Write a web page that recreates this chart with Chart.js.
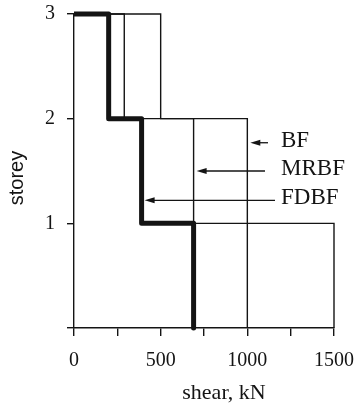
<!DOCTYPE html>
<html>
<head>
<meta charset="utf-8">
<script src="https://cdn.jsdelivr.net/npm/chart.js@4.4.0/dist/chart.umd.min.js"></script>
<style>
  html, body { margin: 0; padding: 0; background: #fff; }
  #wrap { width: 360px; height: 409px; }
</style>
</head>
<body>
<div id="wrap"><canvas id="chart" width="360" height="409"></canvas></div>
<script>
// storey shear for storeys 1, 2, 3 (kN)
const frames = ['BF', 'MRBF', 'FDBF'];
const shearBF = [1500, 1000, 500];
const shearMRBF = [1000, 690, 290];
const shearFDBF = [690, 390, 200];
const storeyTicks = [1, 2, 3];
const shearLabels = [0, 500, 1000, 1500];
// where the arrows for each label sit (storey level)
const labelLevels = [1.77, 1.5, 1.22];

const INK = '#141414';

// step profile: from zero at the roof, down storey by storey
function stepProfile(shear) {
  const pts = [{ x: 0, y: 3 }];
  for (let s = 3; s >= 1; s--) {
    const v = shear[s - 1];
    pts.push({ x: v, y: s });
    pts.push({ x: v, y: s - 1 });
  }
  return pts;
}

const labelsPlugin = {
  id: 'labels',
  afterDraw(chart) {
    const ctx = chart.ctx;
    const xs = chart.scales.x, ys = chart.scales.y;
    const series = [shearBF, shearMRBF, shearFDBF];
    const tails = [268, 265, 275];
    ctx.save();
    ctx.fillStyle = INK;
    ctx.strokeStyle = INK;

    // axis titles
    ctx.font = '20px "Liberation Sans", sans-serif';
    ctx.textAlign = 'center';
    ctx.textBaseline = 'middle';
    ctx.save();
    ctx.translate(17, 178);
    ctx.rotate(-Math.PI / 2);
    ctx.fillText('storey', 0, 0);
    ctx.restore();
    ctx.font = '22px "Liberation Serif", serif';
    ctx.fillText('shear, kN', 224, 393);

    // frame labels with arrows pointing to storey-2 segment
    ctx.font = '23px "Liberation Serif", serif';
    ctx.textAlign = 'left';
    frames.forEach((name, i) => {
      const y = ys.getPixelForValue(labelLevels[i]);
      const tip = xs.getPixelForValue(series[i][1]) + 3;
      const tail = tails[i];
      ctx.lineWidth = 1.3;
      ctx.beginPath();
      ctx.moveTo(tail, y);
      ctx.lineTo(tip + 6, y);
      ctx.stroke();
      ctx.beginPath();
      ctx.moveTo(tip, y);
      ctx.lineTo(tip + 10, y - 3);
      ctx.lineTo(tip + 10, y + 3);
      ctx.closePath();
      ctx.fill();
      ctx.fillText(name, 281, y - 2);
    });
    ctx.restore();
  }
};

new Chart(document.getElementById('chart'), {
  type: 'scatter',
  data: {
    datasets: [
      { label: 'BF', data: stepProfile(shearBF), borderWidth: 1.4 },
      { label: 'MRBF', data: stepProfile(shearMRBF), borderWidth: 1.4 },
      { label: 'FDBF', data: stepProfile(shearFDBF), borderWidth: 5, borderJoinStyle: 'round' }
    ].map(d => Object.assign({
      showLine: true,
      borderColor: INK,
      pointRadius: 0,
      tension: 0,
      clip: false
    }, d))
  },
  plugins: [labelsPlugin],
  options: {
    responsive: false,
    animation: false,
    layout: { padding: { top: 14, right: 26, left: 0, bottom: 0 } },
    plugins: { legend: { display: false }, tooltip: { enabled: false } },
    scales: {
      x: {
        type: 'linear',
        min: 0, max: 1500,
        afterFit(scale) {
          scale.height = 81;
          scale.paddingLeft = 0;
          scale.paddingRight = 0;
        },
        ticks: {
          stepSize: 250,
          autoSkip: false,
          maxRotation: 0,
          padding: 13,
          color: INK,
          font: { family: '"Liberation Serif", serif', size: 20 },
          callback: v => shearLabels.includes(v) ? String(v) : ''
        },
        grid: { drawOnChartArea: false, drawTicks: true, tickLength: 8, color: INK, lineWidth: 1.4 },
        border: { display: true, color: INK, width: 1.4 }
      },
      y: {
        type: 'linear',
        min: 0, max: 3,
        afterFit(scale) {
          scale.width = 74;
          scale.paddingTop = 0;
          scale.paddingBottom = 0;
        },
        ticks: {
          stepSize: 1,
          padding: 12,
          color: INK,
          font: { family: '"Liberation Serif", serif', size: 20 },
          callback: v => storeyTicks.includes(v) ? String(v) : ''
        },
        grid: { drawOnChartArea: false, drawTicks: true, tickLength: 7, color: INK, lineWidth: 1.4 },
        border: { display: true, color: INK, width: 1.4 }
      }
    }
  }
});
</script>
</body>
</html>
